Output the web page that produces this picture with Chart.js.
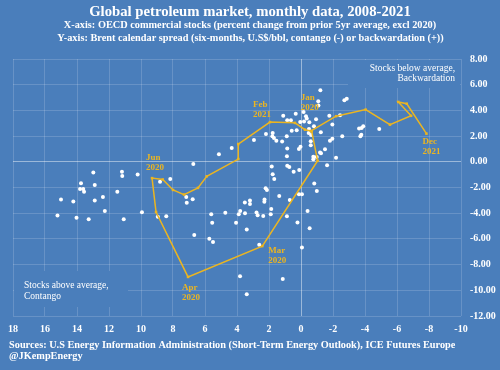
<!DOCTYPE html>
<html>
<head>
<meta charset="utf-8">
<script src="https://cdn.jsdelivr.net/npm/chart.js@4.4.0/dist/chart.umd.min.js"></script>
<style>
  html, body { margin: 0; padding: 0; background: #4a7ebb; }
  canvas { display: block; }
</style>
</head>
<body>
<canvas id="chart" width="500" height="370"></canvas>
<script>
// Donnees 2008-2019 (points blancs) : stocks OCDE (% vs moyenne 5 ans) et spread Brent 6 mois
const histStocks = [15.22, 15.0, 14.23, 14.03, 13.81, 13.61, 13.56, 13.75, 13.27, 12.98,
  12.89, 12.89, 12.38, 12.26, 11.48, 11.19, 11.17, 11.08, 10.21, 9.94,
  8.95, 8.81, 8.42, 8.17, 7.17, 6.77, 7.14, 6.73, 6.67, 5.73,
  5.5, 5.61, 5.55, 5.13, 4.73, 4.33, 4.06, 3.89, 3.8, 3.51,
  3.5, 3.39, 3.81, 3.39, 3.19, 3.19, 2.94, 2.78, 2.71, 2.36,
  2.28, 2.29, 2.21, 2.13, 2.61, 1.89, 1.86, 1.83, 1.77, 1.67,
  1.36, 1.14, 0.88, 0.86, 0.73, 0.70, 0.46, 0.22, 0.13, -0.06,
  0.11, -0.06, -0.41, -0.54, -0.83, -0.99, -1.63, -2.19, -1.21, -1.08,
  -1.09, -2.71, -2.86, 1.11, 0.33, -0.16, -0.31, 0.86, 0.63, 0.05,
  -0.19, -0.36, -0.52, -0.94, -0.81, -1.77, -2.44, -1.96, 0.58, 0.27,
  -0.5, -0.48, -0.63, -1.24, -1.81, -1.96, -2.58, -3.63, -3.79, -3.89,
  -3.71, -3.77, -4.89, -1.5, -1.25, -0.77, -0.98, -0.77, 2.19, 1.77,
  1.79, 1.69, 1.54, 1.18, 0.89, 0.86, 0.88, 0.03, 0.13, -0.61,
  -0.61, -1.19];
const histSpread = [-4.18, -2.93, -3.09, -4.35, -2.11, -2.11, -2.34, -1.66, -4.47, -0.84,
  -1.81, -3.01, -2.73, -3.83, -2.34, -0.77, -1.11, -4.48, -0.98, -3.93,
  -4.27, -1.56, -4.23, -1.34, -2.73, -2.91, -3.19, -0.17, -5.70, -5.98,
  -6.25, -4.08, -4.74, 0.59, -3.96, 1.07, -4.74, -4.08, -3.83, -3.16,
  -4.01, -5.26, -8.91, -10.31, -3.01, -3.28, 1.70, -3.95, -4.16, -4.22,
  -2.93, -3.10, -2.05, -2.20, -6.45, -4.09, -3.67, -0.37, -0.96, -1.33,
  -2.66, -9.13, -4.24, -0.31, -0.41, -2.97, -0.78, -4.73, -2.52, -2.52,
  -0.63, -6.66, -3.83, -5.18, -1.68, -2.27, -0.27, 0.31, 5.57, 4.71,
  4.38, 4.79, 4.90, 3.59, 3.73, 3.88, 3.54, 3.23, 3.23, 3.09,
  3.14, 3.36, 3.07, 3.32, 2.76, 3.59, 3.62, 2.91, 2.42, 2.45,
  2.55, 2.24, 2.09, 2.30, 1.64, 1.80, 1.98, 2.60, 2.63, 2.76,
  1.98, 2.11, 2.55, 0.98, 0.66, 0.39, 0.37, 0.20, 2.17, 2.24,
  1.99, 1.85, 1.64, 1.58, 1.99, 1.03, 0.43, 1.17, 0.99, 1.59,
  1.29, 0.73];

// Trajectoire 2020-2021 (ligne doree)
const pathMonths = ['Jan 2020', 'Feb 2020', 'Mar 2020', 'Apr 2020', 'May 2020', 'Jun 2020',
  'Jul 2020', 'Aug 2020', 'Sep 2020', 'Oct 2020', 'Nov 2020', 'Dec 2020',
  'Jan 2021', 'Feb 2021', 'Mar 2021', 'Apr 2021', 'May 2021', 'Jun 2021',
  'Jul 2021', 'Aug 2021', 'Sep 2021', 'Oct 2021', 'Nov 2021', 'Dec 2021'];
const pathStocks = [-0.67, -1.04, 2.42, 7.06, 9.06, 9.31, 8.64, 8.0, 7.31, 6.44, 5.89, 3.92,
  3.92, 1.94, 0.38, -0.25, -0.62, -2.19, -4.04, -5.56, -6.88, -6.08, -6.61, -7.84];
const pathSpread = [2.37, 0.08, -6.56, -8.96, -3.91, -1.27, -1.38, -2.19, -2.55, -2.03, -1.13, 0.21,
  1.38, 3.09, 3.03, 2.5, 2.4, 3.55, 4.06, 2.89, 3.58, 4.66, 4.52, 2.19];

// Axes
const xTicks = [18, 16, 14, 12, 10, 8, 6, 4, 2, 0, -2, -4, -6, -8, -10];
const yTicks = [8, 6, 4, 2, 0, -2, -4, -6, -8, -10, -12];

const BG = '#4a7ebb';
const GOLD = '#ebb521';
const SERIF = '"Liberation Serif", "DejaVu Serif", serif';

// decalage des etiquettes de mois (px)
const monthLabelOffsets = {
  'Jan 2020': [-11, -34],
  'Mar 2020': [6, 5],
  'Apr 2020': [-6, 11],
  'Jun 2020': [-6, -20],
  'Feb 2021': [-17, -17],
  'Dec 2021': [-4, 8]
};

const decor = {
  id: 'decor',
  beforeDraw(chart) {
    const c = chart.ctx;
    c.save();
    c.fillStyle = BG;
    c.fillRect(0, 0, chart.width, chart.height);
    c.restore();
  },
  beforeDatasetsDraw(chart) {
    const c = chart.ctx;
    c.save();
    // caches sous les annotations
    c.fillStyle = BG;
    c.fillRect(348, 60, 112, 28);
    c.fillRect(14, 271, 114, 36);
    c.fillStyle = '#ffffff';
    c.font = '9.5px ' + SERIF;
    c.textBaseline = 'middle';
    c.textAlign = 'right';
    c.fillText('Stocks below average,', 455, 68.5);
    c.fillText('Backwardation', 455, 78.5);
    c.textAlign = 'left';
    c.fillText('Stocks above average,', 24, 285.5);
    c.fillText('Contango', 24, 296.5);
    c.restore();
  },
  afterDatasetsDraw(chart) {
    const c = chart.ctx;
    const xs = chart.scales.x, ys = chart.scales.y;
    c.save();
    c.textBaseline = 'middle';
    // etiquettes des mois
    c.fillStyle = GOLD;
    c.font = 'bold 9px ' + SERIF;
    c.textAlign = 'left';
    pathMonths.forEach((m, i) => {
      const off = monthLabelOffsets[m];
      if (!off) return;
      const px = xs.getPixelForValue(pathStocks[i]) + off[0];
      const py = ys.getPixelForValue(pathSpread[i]) + off[1];
      const parts = m.split(' ');
      c.fillText(parts[0], px, py);
      c.fillText(parts[1], px, py + 10);
    });
    // titres
    c.fillStyle = '#ffffff';
    c.textAlign = 'center';
    c.font = 'bold 14.7px ' + SERIF;
    c.fillText('Global petroleum market, monthly data, 2008-2021', 250, 12.5);
    c.font = 'bold 10.3px ' + SERIF;
    c.fillText('X-axis: OECD commercial stocks (percent change from prior 5yr average, excl 2020)', 250, 25.5);
    c.fillText('Y-axis: Brent calendar spread (six-months, U.S$/bbl, contango (-) or backwardation (+))', 250.5, 38);
    // sources
    c.textAlign = 'left';
    c.fillText('Sources: U.S Energy Information Administration (Short-Term Energy Outlook), ICE Futures Europe', 9, 345);
    c.fillText('@JKempEnergy', 9, 356.5);
    c.restore();
  }
};

const gridColor = ctx => ctx.tick && ctx.tick.value === 0
  ? 'rgba(255,255,255,0.45)' : 'rgba(255,255,255,0.16)';

new Chart(document.getElementById('chart'), {
  type: 'scatter',
  data: {
    datasets: [{
      label: '2020-2021',
      data: pathStocks.map((x, i) => ({x, y: pathSpread[i]})),
      showLine: true,
      borderColor: GOLD,
      borderWidth: 1.5,
      backgroundColor: GOLD,
      pointStyle: 'rect',
      pointRadius: 1.8,
      pointBorderWidth: 0,
      tension: 0
    }, {
      label: '2008-2019',
      data: histStocks.map((x, i) => ({x, y: histSpread[i]})),
      backgroundColor: '#ffffff',
      pointRadius: 2,
      pointBorderWidth: 0
    }]
  },
  options: {
    responsive: false,
    animation: false,
    devicePixelRatio: 1,
    layout: { padding: { top: 59, left: 13, right: 0, bottom: 0 } },
    plugins: {
      legend: { display: false },
      tooltip: { enabled: false },
      title: { display: false }
    },
    scales: {
      x: {
        type: 'linear',
        reverse: true,
        min: -10,
        max: 18,
        afterBuildTicks: s => { s.ticks = xTicks.map(v => ({value: v})); },
        afterFit: s => { s.height = 54; },
        grid: { color: gridColor, drawTicks: false, lineWidth: 1 },
        border: { display: false },
        ticks: {
          autoSkip: false,
          maxRotation: 0,
          padding: 7,
          color: '#ffffff',
          font: { family: SERIF, size: 10, weight: 'bold' }
        }
      },
      y: {
        type: 'linear',
        position: 'right',
        min: -12,
        max: 8,
        afterBuildTicks: s => { s.ticks = yTicks.map(v => ({value: v})); },
        afterFit: s => { s.width = 39; },
        grid: { color: gridColor, drawTicks: false, lineWidth: 1 },
        border: { display: false },
        ticks: {
          padding: 9,
          color: '#ffffff',
          font: { family: SERIF, size: 10, weight: 'bold' },
          callback: v => Number(v).toFixed(2)
        }
      }
    }
  },
  plugins: [decor]
});
</script>
</body>
</html>
